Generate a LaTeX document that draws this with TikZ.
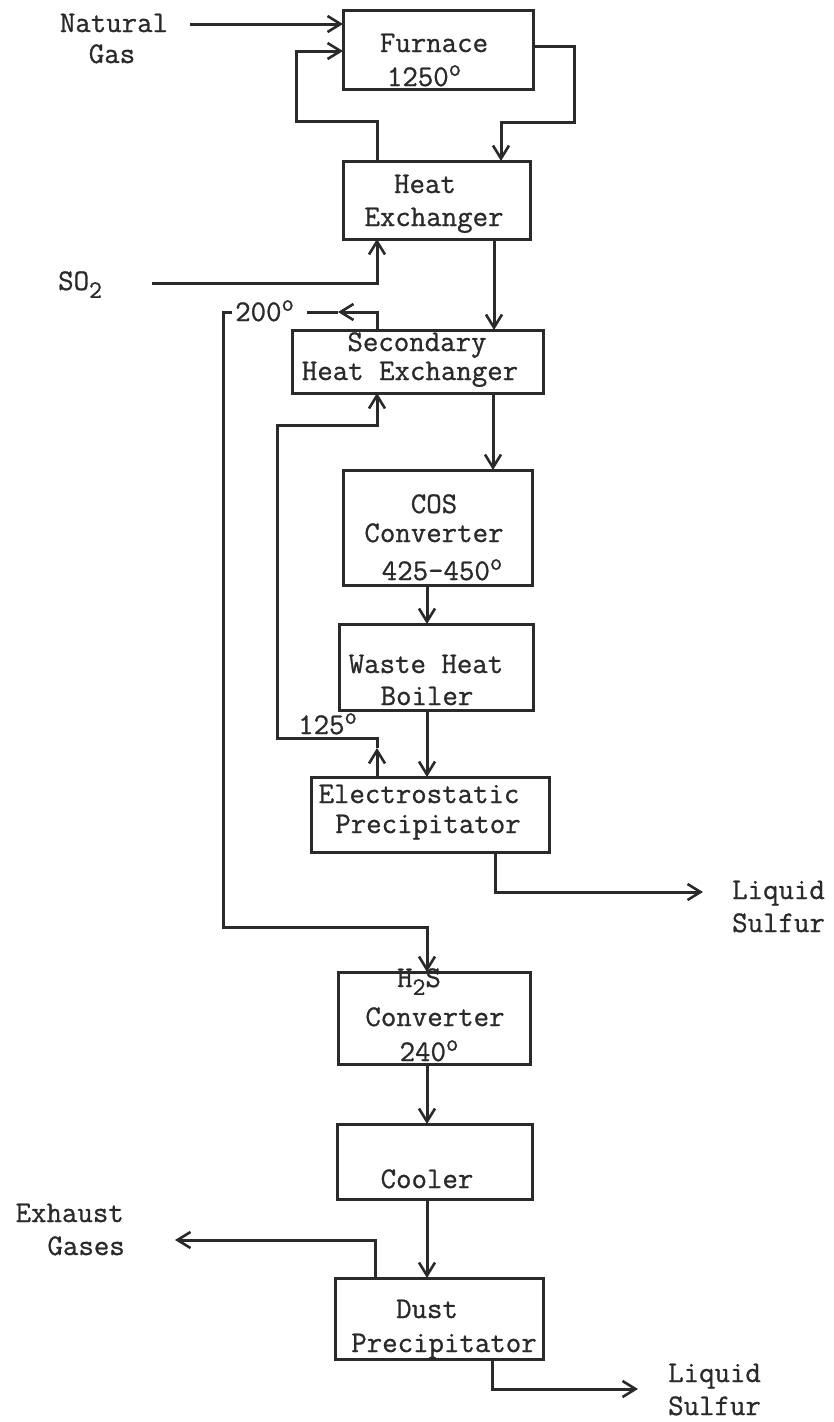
\documentclass[tikz,border=0pt]{standalone}
\usepackage{fontspec}
\newfontfamily\tw{Latin Modern Mono}[FakeBold=0.9]
\usetikzlibrary{arrows.meta}
\definecolor{ink}{HTML}{2A2A2A}
\newcommand\degr{\raisebox{0.34em}{\fontsize{24}{24}\selectfont o}}
\newcommand\subtwo{\raisebox{-0.26em}{\fontsize{25}{25}\selectfont 2}}
\begin{document}
\begin{tikzpicture}[x=1pt,y=-1pt,
  box/.style={draw=ink, line width=3pt, inner sep=0pt, outer sep=0pt, anchor=north west},
  lbl/.style={font=\fontsize{30}{31}\selectfont\tw, text=ink, inner sep=0pt, anchor=base},
  flow/.style={draw=ink, line width=3pt},
  arr/.style={-{Straight Barb[length=13pt,width=16pt,line width=2.6pt]}}]
\useasboundingbox (0,0) rectangle (833,1422);
% boxes
\node[box, minimum width=190pt, minimum height=79pt] (furnace) at (343,10) {};
\node[box, minimum width=187pt, minimum height=78pt] (he) at (343,161) {};
\node[box, minimum width=251pt, minimum height=63pt] (she) at (292,330) {};
\node[box, minimum width=189pt, minimum height=115pt] (cos) at (343,470) {};
\node[box, minimum width=194pt, minimum height=86pt] (whb) at (339,624) {};
\node[box, minimum width=238pt, minimum height=75pt] (esp) at (311,777) {};
\node[box, minimum width=192pt, minimum height=92pt] (h2s) at (338,972) {};
\node[box, minimum width=195pt, minimum height=75pt] (cooler) at (337,1124) {};
\node[box, minimum width=208pt, minimum height=81pt] (dust) at (335,1278) {};
% box texts
\node[lbl] (furnace-a) at (434,52) {Furnace};
\node[lbl] (furnace-b) at (424,86) {1250\degr};
\node[lbl] (he-a) at (425,193) {Heat};
\node[lbl] (he-b) at (434,226) {Exchanger};
\node[lbl, text depth=0pt] (she-a) at (417,351) {Secondary};
\node[lbl, text height=17pt] (she-b) at (410,380) {Heat Exchanger};
\node[lbl] (cos-a) at (434,513) {COS};
\node[lbl] (cos-b) at (434,542) {Converter};
\node[lbl] (cos-c) at (442,580) {425-450\degr};
\node[lbl] (whb-a) at (426,673) {Waste Heat};
\node[lbl] (whb-b) at (427,705) {Boiler};
\node[lbl] (esp-a) at (419,803) {Electrostatic};
\node[lbl] (esp-b) at (428,833) {Precipitator};
\node[lbl] (h2s-a) at (419,987) {H\subtwo S};
\node[lbl] (h2s-b) at (435,1026) {Converter};
\node[lbl] (h2s-c) at (429,1061) {240\degr};
\node[lbl] (cooler-a) at (427,1188) {Cooler};
\node[lbl] (dust-a) at (427,1318) {Dust};
\node[lbl] (dust-b) at (444,1352) {Precipitator};
% outside labels
\node[lbl] (ng-a) at (114,32) {Natural};
\node[lbl] (ng-b) at (112,63) {Gas};
\node[lbl, anchor=base west] (so2) at (58,290) {SO\subtwo};
\node[lbl, anchor=base west] (t200) at (235,321) {200\degr};
\node[lbl, anchor=base west] (t125) at (298,734) {125\degr};
\node[lbl, anchor=base west] (ls1-a) at (732,899) {Liquid};
\node[lbl, anchor=base west] (ls1-b) at (732,932) {Sulfur};
\node[lbl, anchor=base east] (ex-a) at (124,1222) {Exhaust};
\node[lbl, anchor=base east] (ex-b) at (125,1255) {Gases};
\node[lbl, anchor=base west] (ls2-a) at (668,1382) {Liquid};
\node[lbl, anchor=base west] (ls2-b) at (668,1415) {Sulfur};
% coordinates
\coordinate (ng) at (190,24);
\coordinate (r1) at (377,121);
\coordinate (r2) at (296,121);
\coordinate (r3) at (296,51);
\coordinate (f1) at (574,46);
\coordinate (f2) at (574,122);
\coordinate (f3) at (501,122);
\coordinate (h1) at (494,0);
\coordinate (s1) at (152,283);
\coordinate (s2) at (377,283);
\coordinate (t1) at (377,312);
\coordinate (tm) at (338,312);
\coordinate (t2) at (307,312);
\coordinate (t3) at (232,312);
\coordinate (t4) at (223,312);
\coordinate (t5) at (223,927);
\coordinate (t6) at (427,927);
\coordinate (c1) at (493,0);
\coordinate (m1) at (427,0);
\coordinate (e1) at (377,748);
\coordinate (e2) at (377,738);
\coordinate (e3) at (277,738);
\coordinate (e4) at (277,425);
\coordinate (e5) at (377,425);
\coordinate (q1) at (495,892);
\coordinate (q2) at (703,892);
\coordinate (x1) at (375,1240);
\coordinate (x2) at (175,1240);
\coordinate (d1) at (492,1389);
\coordinate (d2) at (638,1389);
% connectors
\draw[flow,arr] (ng) -- (ng -| furnace.west);
\draw[flow,arr] (r1 |- he.north) -- (r1) -- (r2) -- (r3) -- (r3 -| furnace.west);
\draw[flow,arr] (f1 -| furnace.east) -- (f1) -- (f2) -- (f3) -- (f3 |- he.north);
\draw[flow,arr] (h1 |- he.south) -- (h1 |- she.north);
\draw[flow,arr] (s1) -- (s2) -- (s2 |- he.south);
\draw[flow,arr] (t1 |- she.north) -- (t1) -- (tm);
\draw[flow] (tm) -- (t2);
\draw[flow,arr] (t3) -- (t4) -- (t5) -- (t6) -- (t6 |- h2s.north);
\draw[flow,arr] (c1 |- she.south) -- (c1 |- cos.north);
\draw[flow,arr] (m1 |- cos.south) -- (m1 |- whb.north);
\draw[flow,arr] (m1 |- whb.south) -- (m1 |- esp.north);
\draw[flow,arr] (e1 |- esp.north) -- (e1);
\draw[flow,arr] (e1) -- (e2) -- (e3) -- (e4) -- (e5) -- (e5 |- she.south);
\draw[flow,arr] (q1 |- esp.south) -- (q1) -- (q2);
\draw[flow,arr] (m1 |- h2s.south) -- (m1 |- cooler.north);
\draw[flow,arr] (m1 |- cooler.south) -- (m1 |- dust.north);
\draw[flow,arr] (x1 |- dust.north) -- (x1) -- (x2);
\draw[flow,arr] (d1 |- dust.south) -- (d1) -- (d2);
\end{tikzpicture}
\end{document}
